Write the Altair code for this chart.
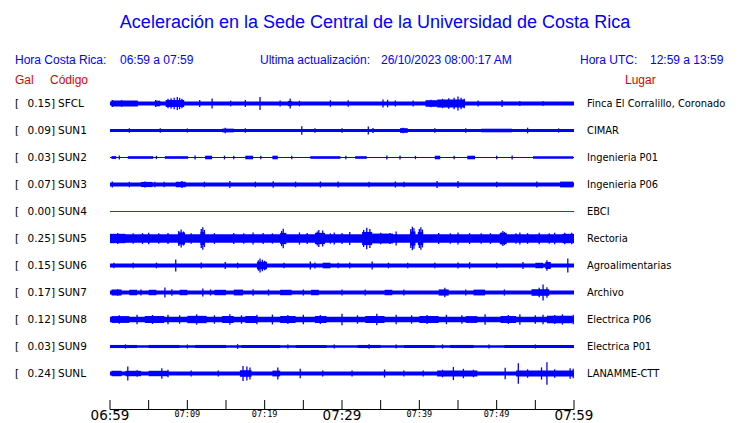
import altair as alt
import pandas as pd

# ---------------- data ----------------
codes = ["SFCL", "SUN1", "SUN2", "SUN3", "SUN4", "SUN5", "SUN6", "SUN7", "SUN8", "SUN9", "SUNL"]
peaks = ["0.15", "0.09", "0.03", "0.07", "0.00", "0.25", "0.15", "0.17", "0.12", "0.03", "0.24"]
places = ["Finca El Corralillo, Coronado", "CIMAR", "Ingenieria P01", "Ingenieria P06", "EBCI",
          "Rectoria", "Agroalimentarias", "Archivo", "Electrica P06", "Electrica P01", "LANAMME-CTT"]

# background noise level of each trace (half amplitude, Gal)
base_amp = [0.042, 0.03, 0.012, 0.042, 0.0, 0.09, 0.042, 0.042, 0.06, 0.025, 0.042]

# bursts: (start minute, end minute, half amplitude Gal)
bursts = {
    "SFCL": [(0.2, 3.6, 0.062), (5.8, 6.5, 0.06), (7.2, 9.6, 0.075), (23.0, 23.5, 0.055),
             (40.8, 42.3, 0.07), (42.3, 45.9, 0.085)],
    "SUN1": [(14.5, 16.0, 0.04), (37.5, 38.5, 0.05), (48.0, 52.0, 0.038)],
    "SUN2": [(0.2, 0.8, 0.03), (2.3, 5.6, 0.028), (7.1, 10.1, 0.028), (12.3, 13.2, 0.038), (17.5, 18.5, 0.038),
             (21.0, 21.7, 0.038), (25.9, 29.8, 0.028), (31.7, 33.2, 0.028), (42.0, 42.7, 0.038), (46.2, 47.2, 0.038),
             (54.7, 59.9, 0.028)],
    "SUN3": [(4.0, 5.5, 0.055), (8.5, 9.8, 0.058), (58.2, 59.9, 0.062)],
    "SUN4": [],
    "SUN5": [(0.0, 2.0, 0.1), (8.8, 9.7, 0.13), (11.7, 12.3, 0.14), (22.0, 22.8, 0.12), (26.5, 27.8, 0.12),
             (32.6, 33.9, 0.14), (33.9, 36.6, 0.105), (38.8, 39.5, 0.15), (39.8, 40.5, 0.14), (50.4, 51.3, 0.12),
             (58.5, 60.0, 0.1)],
    "SUN6": [(19.0, 20.3, 0.08), (27.5, 28.5, 0.06), (55.0, 56.0, 0.058), (56.3, 57.0, 0.075)],
    "SUN7": [(0.2, 1.5, 0.062), (2.5, 3.5, 0.058), (5.0, 6.0, 0.058), (9.0, 10.0, 0.058), (13.5, 15.0, 0.058),
             (16.0, 17.2, 0.062), (22.0, 23.5, 0.058), (26.0, 27.0, 0.058), (35.5, 36.5, 0.058), (42.5, 43.8, 0.066),
             (47.0, 48.5, 0.062), (54.5, 56.8, 0.07)],
    "SUN8": [(0.2, 2.5, 0.072), (4.5, 7.0, 0.075), (10.0, 12.5, 0.078), (14.5, 16.0, 0.075), (17.5, 19.0, 0.075),
             (22.0, 24.0, 0.075), (26.5, 28.0, 0.075), (33.0, 35.5, 0.075), (40.0, 42.5, 0.075), (46.0, 47.5, 0.072),
             (50.5, 52.5, 0.075), (56.5, 59.8, 0.08)],
    "SUN9": [(0.0, 3.5, 0.033), (5.0, 9.0, 0.033), (11.0, 15.0, 0.033), (17.0, 22.0, 0.033), (24.0, 28.0, 0.033),
             (32.0, 35.0, 0.033), (38.0, 42.0, 0.033), (44.0, 47.0, 0.033), (51.0, 60.0, 0.033)],
    "SUNL": [(0.2, 1.5, 0.058), (2.0, 4.0, 0.058), (5.0, 7.5, 0.058), (16.8, 18.3, 0.07), (21.0, 22.0, 0.062),
             (42.3, 47.5, 0.062), (52.5, 59.9, 0.066)],
}

# spikes: (minute, half amplitude Gal)
spikes = {
    "SFCL": [(0.3, 0.075), (1.5, 0.07), (5.9, 0.075), (7.5, 0.1), (7.9, 0.11), (8.3, 0.12), (8.7, 0.14),
             (9.0, 0.12), (9.3, 0.1), (11.6, 0.075), (13.2, 0.105), (15.6, 0.06), (17.5, 0.075), (19.4, 0.14),
             (22.0, 0.065), (23.3, 0.105), (24.5, 0.06), (28.5, 0.07), (30.8, 0.07), (35.3, 0.085), (35.9, 0.08),
             (36.9, 0.065), (39.2, 0.065), (41.5, 0.08), (43.0, 0.1), (43.8, 0.11), (44.5, 0.12), (45.0, 0.15),
             (45.4, 0.12), (45.8, 0.1), (47.6, 0.065), (50.7, 0.075), (53.0, 0.055), (56.0, 0.05)],
    "SUN1": [(2.5, 0.05), (6.5, 0.05), (10.0, 0.045), (14.9, 0.06), (17.5, 0.05), (24.8, 0.09), (26.5, 0.05),
             (30.0, 0.05), (33.4, 0.085), (34.0, 0.055), (37.9, 0.06), (42.0, 0.05), (46.0, 0.05), (54.0, 0.06),
             (58.0, 0.045)],
    "SUN2": [(1.2, 0.04), (6.0, 0.035), (11.0, 0.04), (14.8, 0.04), (16.0, 0.035), (19.5, 0.035), (23.5, 0.035),
             (30.5, 0.035), (35.8, 0.04), (37.5, 0.04), (39.5, 0.035), (44.5, 0.035), (50.0, 0.035), (52.0, 0.04)],
    "SUN3": [(0.3, 0.065), (2.5, 0.06), (4.5, 0.065), (5.8, 0.06), (7.0, 0.06), (9.3, 0.075), (12.2, 0.06),
             (15.5, 0.075), (18.8, 0.06), (21.1, 0.07), (24.0, 0.06), (27.2, 0.065), (29.5, 0.065), (33.5, 0.06),
             (36.9, 0.065), (38.0, 0.06), (42.3, 0.075), (45.0, 0.075), (50.0, 0.06), (55.2, 0.065)],
    "SUN4": [],
    "SUN5": [(1.0, 0.115), (3.0, 0.11), (4.2, 0.115), (5.0, 0.12), (6.3, 0.11), (7.5, 0.115), (8.9, 0.16),
             (9.2, 0.19), (9.5, 0.15), (10.5, 0.11), (11.8, 0.2), (12.0, 0.24), (12.2, 0.18), (13.5, 0.115),
             (16.0, 0.115), (17.3, 0.11), (18.5, 0.13), (19.8, 0.115), (21.0, 0.11), (22.2, 0.16), (22.4, 0.21),
             (24.5, 0.13), (25.5, 0.115), (26.8, 0.15), (27.0, 0.18), (27.5, 0.17), (28.5, 0.11), (29.0, 0.13),
             (30.0, 0.115), (31.0, 0.14), (32.8, 0.18), (33.2, 0.23), (33.6, 0.2), (35.0, 0.12), (36.2, 0.115),
             (37.0, 0.15), (38.9, 0.2), (39.1, 0.25), (39.3, 0.22), (40.0, 0.2), (40.2, 0.24), (40.4, 0.19),
             (42.5, 0.115), (44.0, 0.11), (45.0, 0.13), (46.5, 0.115), (48.0, 0.11), (49.2, 0.115), (50.6, 0.13),
             (50.8, 0.16), (51.0, 0.14), (52.5, 0.11), (53.0, 0.13), (54.0, 0.115), (55.5, 0.12), (56.8, 0.11),
             (57.5, 0.12), (58.8, 0.12), (59.7, 0.12)],
    "SUN6": [(0.5, 0.06), (3.0, 0.06), (6.0, 0.06), (8.5, 0.13), (11.8, 0.065), (14.9, 0.075), (16.5, 0.06),
             (19.2, 0.11), (19.4, 0.15), (19.7, 0.12), (20.0, 0.1), (22.5, 0.06), (25.9, 0.085), (26.5, 0.065),
             (29.5, 0.06), (31.0, 0.065), (33.9, 0.085), (36.0, 0.06), (38.5, 0.06), (42.0, 0.06), (45.0, 0.065),
             (46.5, 0.07), (50.0, 0.06), (53.4, 0.075), (56.5, 0.11), (59.2, 0.15)],
    "SUN7": [(1.0, 0.07), (4.0, 0.065), (7.1, 0.105), (8.0, 0.07), (12.0, 0.085), (13.0, 0.065), (18.5, 0.07),
             (20.5, 0.065), (25.0, 0.065), (30.0, 0.065), (33.0, 0.065), (38.0, 0.065), (43.3, 0.1), (46.0, 0.065),
             (51.0, 0.065), (55.5, 0.1), (56.0, 0.17), (56.5, 0.11)],
    "SUN8": [(1.2, 0.09), (3.5, 0.1), (5.5, 0.095), (7.5, 0.1), (9.0, 0.09), (11.2, 0.11), (13.5, 0.09),
             (15.5, 0.11), (17.0, 0.09), (19.0, 0.1), (21.0, 0.105), (23.0, 0.095), (25.0, 0.1), (27.2, 0.095),
             (30.0, 0.12), (32.0, 0.09), (34.5, 0.12), (37.0, 0.1), (39.0, 0.09), (41.0, 0.095), (43.5, 0.1),
             (45.5, 0.09), (48.5, 0.11), (51.5, 0.095), (53.0, 0.11), (55.0, 0.09), (56.0, 0.1), (57.5, 0.095),
             (58.5, 0.11), (59.9, 0.1)],
    "SUN9": [(2.0, 0.045), (10.0, 0.045), (16.5, 0.05), (23.0, 0.045), (29.0, 0.045), (33.5, 0.05), (37.0, 0.045),
             (43.0, 0.045), (49.0, 0.045), (55.0, 0.045)],
    "SUNL": [(2.3, 0.15), (3.5, 0.07), (6.7, 0.11), (7.5, 0.08), (10.5, 0.065), (14.0, 0.065), (17.2, 0.16),
             (17.7, 0.15), (18.1, 0.13), (21.7, 0.13), (24.6, 0.1), (27.5, 0.065), (31.3, 0.065), (35.5, 0.085),
             (38.0, 0.065), (40.5, 0.065), (43.0, 0.08), (44.4, 0.14), (45.7, 0.1), (47.0, 0.08), (51.1, 0.12),
             (52.8, 0.22), (54.0, 0.09), (55.8, 0.13), (56.5, 0.24), (57.5, 0.09), (59.5, 0.11), (59.9, 0.1)],
}

tick_minutes = [0, 5, 10, 15, 20, 25, 30, 35, 40, 45, 50, 55, 60]
major_ticks = [0, 30, 60]
major_labels = ["06:59", "07:29", "07:59"]
minor_ticks = [10, 20, 40, 50]
minor_labels = ["07:09", "07:19", "07:39", "07:49"]

title_text = "Aceleración en la Sede Central de la Universidad de Costa Rica"
hdr_texts = ["Hora Costa Rica:", "06:59 a 07:59", "Ultima actualización:", "26/10/2023 08:00:17 AM",
             "Hora UTC:", "12:59 a 13:59"]
col_texts = ["Gal", "Código", "Lugar"]

# ---------------- build tables ----------------
ROW_STEP = 0.575  # Gal between trace baselines
BLUE = "#0000ff"
RED = "#e00000"

stations = pd.DataFrame({
    "code": codes, "peak": [p + "]" for p in peaks], "place": places,
    "yc": [i * ROW_STEP for i in range(len(codes))],
    "base": base_amp, "t0": 0.0, "t1": 60.0,
})

rect_rows = []
for i, c in enumerate(codes):
    yc = i * ROW_STEP
    if base_amp[i] > 0:
        rect_rows.append({"x": 0.0, "x2": 60.0, "y": yc - base_amp[i], "y2": yc + base_amp[i]})
    for (a, b, h) in bursts[c]:
        rect_rows.append({"x": a, "x2": b, "y": yc - h, "y2": yc + h})
rects = pd.DataFrame(rect_rows)

spike_rows = []
for i, c in enumerate(codes):
    yc = i * ROW_STEP
    for (t, h) in spikes[c]:
        spike_rows.append({"x": t, "y": yc - h, "y2": yc + h})
spk = pd.DataFrame(spike_rows)

xs = alt.Scale(domain=[0, 60], range=[102, 566], nice=False, zero=False)
ys = alt.Scale(domain=[0, 10 * ROW_STEP], range=[95.5, 365.5], nice=False, zero=False)

center = alt.Chart(stations).mark_rule(strokeWidth=1).encode(
    x=alt.X("t0:Q", scale=xs, axis=None), x2="t1:Q",
    y=alt.Y("yc:Q", scale=ys, axis=None),
    color=alt.condition(alt.datum.base == 0, alt.value(RED), alt.value(BLUE)),
)
band = alt.Chart(rects).mark_rect(color=BLUE).encode(
    x=alt.X("x:Q", scale=xs, axis=None), x2="x2:Q",
    y=alt.Y("y:Q", scale=ys, axis=None), y2="y2:Q",
)
spike_layer = alt.Chart(spk).mark_rule(color=BLUE, strokeWidth=1.3).encode(
    x=alt.X("x:Q", scale=xs, axis=None),
    y=alt.Y("y:Q", scale=ys, axis=None), y2="y2:Q",
)

LBL_FONT = "DejaVu Sans"
left_bracket = alt.Chart(stations).mark_text(align="left", baseline="middle", font=LBL_FONT,
                                             fontSize=10.5, color="black").encode(
    x=alt.value(7), y=alt.Y("yc:Q", scale=ys, axis=None), text=alt.value("["))
left_peak = alt.Chart(stations).mark_text(align="right", baseline="middle", font=LBL_FONT,
                                          fontSize=10.5, color="black").encode(
    x=alt.value(47), y=alt.Y("yc:Q", scale=ys, axis=None), text="peak:N")
left_code = alt.Chart(stations).mark_text(align="left", baseline="middle", font=LBL_FONT,
                                          fontSize=10.5, color="black").encode(
    x=alt.value(50), y=alt.Y("yc:Q", scale=ys, axis=None), text="code:N")
right_place = alt.Chart(stations).mark_text(align="left", baseline="middle", font=LBL_FONT,
                                            fontSize=9.9, color="black").encode(
    x=alt.value(579), y=alt.Y("yc:Q", scale=ys, axis=None), text="place:N")

# time axis
axis_line = alt.Chart(pd.DataFrame({"a": [tick_minutes[0]], "b": [tick_minutes[-1]]})).mark_rule(
    color="black", strokeWidth=1).encode(
    x=alt.X("a:Q", scale=xs, axis=None), x2="b:Q", y=alt.value(401.5))
ticks = alt.Chart(pd.DataFrame({"m": tick_minutes})).mark_rule(color="black", strokeWidth=1).encode(
    x=alt.X("m:Q", scale=xs, axis=None), y=alt.value(392), y2=alt.value(401.5))
big_lbl = alt.Chart(pd.DataFrame({"m": major_ticks, "t": major_labels})).mark_text(
    font=LBL_FONT, fontSize=13.5, baseline="middle", align="center", color="black").encode(
    x=alt.X("m:Q", scale=xs, axis=None), y=alt.value(407.5), text="t:N")
small_lbl = alt.Chart(pd.DataFrame({"m": minor_ticks, "t": minor_labels})).mark_text(
    font="DejaVu Sans Mono", fontSize=8.5, baseline="middle", align="center", color="black").encode(
    x=alt.X("m:Q", scale=xs, axis=None), y=alt.value(405.5), text="t:N")


def txt(s, x, y, size, color, align="left"):
    return alt.Chart(pd.DataFrame({"t": [s]})).mark_text(
        font="Liberation Sans", fontSize=size, color=color, align=align, baseline="middle").encode(
        x=alt.value(x), y=alt.value(y), text="t:N")


head = [
    txt(title_text, 367, 14.5, 18, BLUE, "center"),
    txt(hdr_texts[0], 7, 52, 12, BLUE),
    txt(hdr_texts[1], 112, 52, 12, BLUE),
    txt(hdr_texts[2], 252, 52, 12, BLUE),
    txt(hdr_texts[3], 373, 52, 12, BLUE),
    txt(hdr_texts[4], 572, 52, 12, BLUE),
    txt(hdr_texts[5], 642, 52, 12, BLUE),
    txt(col_texts[0], 7, 72, 12, RED),
    txt(col_texts[1], 42, 72, 12, RED),
    txt(col_texts[2], 617, 72, 12, RED),
]

chart = alt.layer(
    center, band, spike_layer, left_bracket, left_peak, left_code, right_place,
    axis_line, ticks, big_lbl, small_lbl, *head
).properties(
    width=724, height=415,
    autosize=alt.AutoSizeParams(type="none"),
    padding={"left": 0, "top": 0, "right": 0, "bottom": 0},
    background="white",
).configure_view(stroke=None)

chart.save("out.html", embed_options={"renderer": "svg", "actions": False})
